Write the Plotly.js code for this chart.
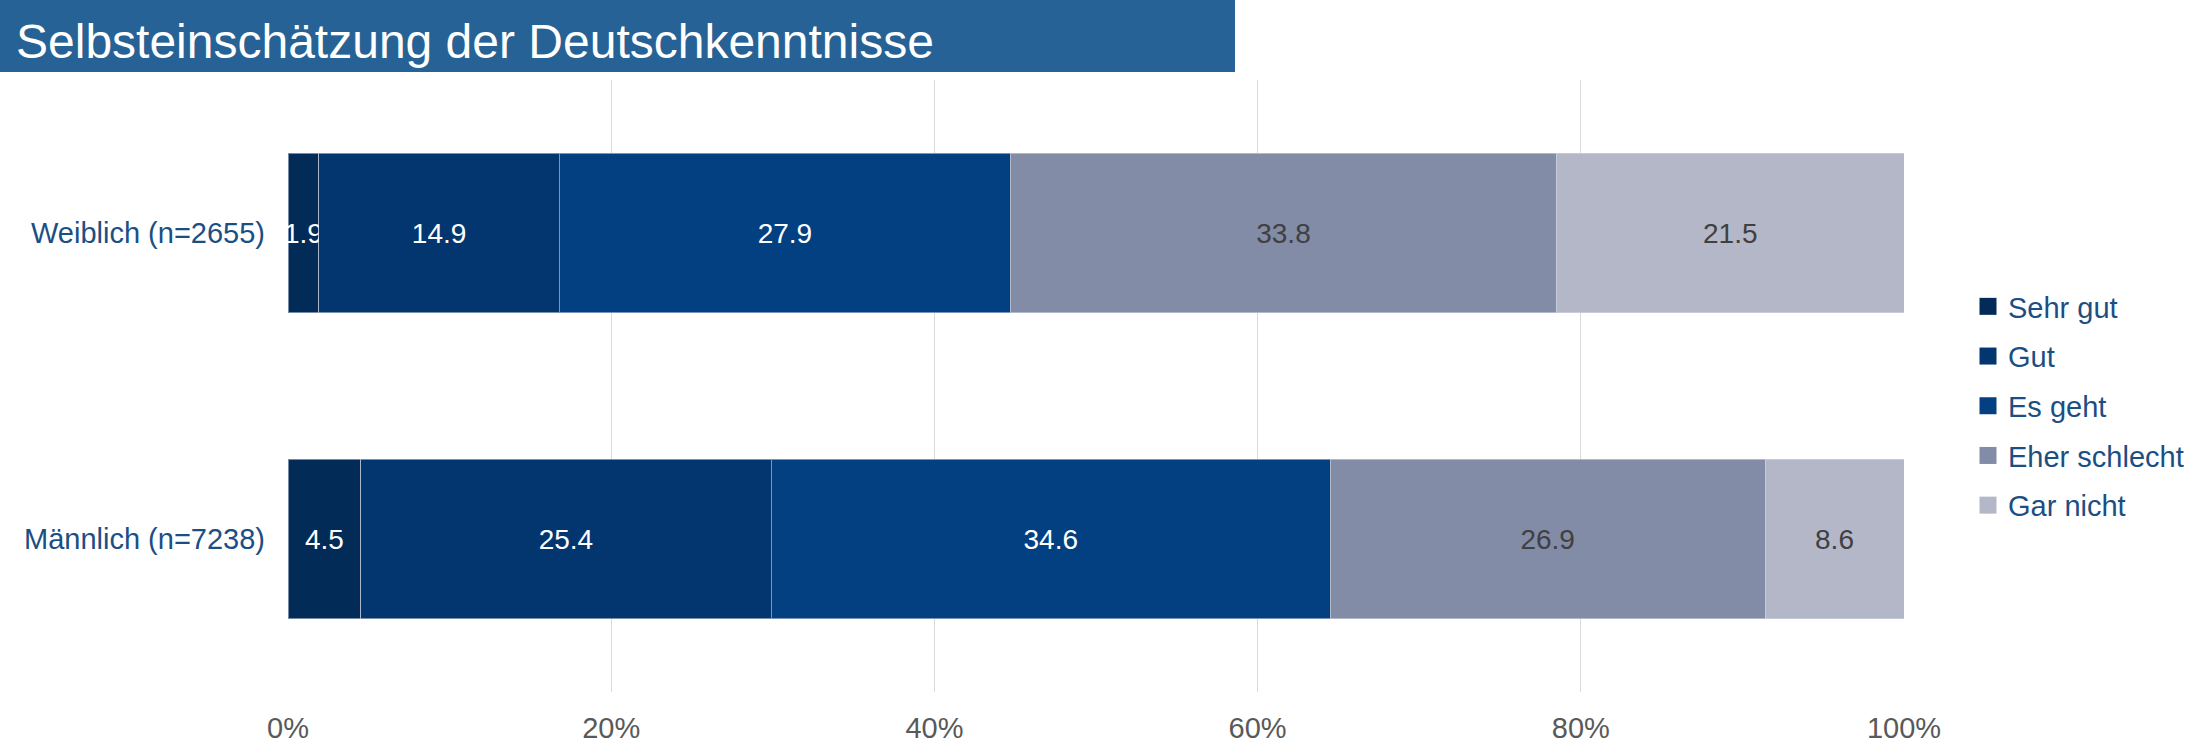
<!DOCTYPE html>
<html>
<head>
<meta charset="utf-8">
<script src="https://cdn.plot.ly/plotly-3.0.1.min.js"></script>
<style>
  html, body { margin: 0; padding: 0; background: #fff; }
  #chart { width: 2185px; height: 745px; }
  #chart .legend .legendpoints path { stroke-width: 0 !important; }
</style>
</head>
<body>
<div id="chart"></div>
<script>
const chartTitle = "Selbsteinschätzung der Deutschkenntnisse";
const categories = ["Weiblich (n=2655)", "Männlich (n=7238)"];
const seriesNames = ["Sehr gut", "Gut", "Es geht", "Eher schlecht", "Gar nicht"];
const sehrGut = [1.9, 4.5];
const gut = [14.9, 25.4];
const esGeht = [27.9, 34.6];
const eherSchlecht = [33.8, 26.9];
const garNicht = [21.5, 8.6];
const tickValues = [0, 20, 40, 60, 80, 100];
const tickLabels = ["0%", "20%", "40%", "60%", "80%", "100%"];

const seriesValues = [sehrGut, gut, esGeht, eherSchlecht, garNicht];
const seriesColors = ["#022b57", "#03366e", "#034081", "#828ca7", "#b4b7c7"];
const labelColors = ["#ffffff", "#ffffff", "#ffffff", "#404040", "#404040"];

const FONT = "'Liberation Sans', Arial, sans-serif";

const traces = seriesNames.map((name, i) => ({
  type: "bar",
  orientation: "h",
  name: name,
  legendgroup: "g" + i,
  y: categories,
  x: seriesValues[i],
  text: seriesValues[i].map(v => v.toFixed(1)),
  texttemplate: "%{text}",
  textposition: "inside",
  insidetextanchor: "middle",
  textangle: 0,
  constraintext: "none",
  cliponaxis: false,
  textfont: { family: FONT, size: 28, color: labelColors[i] },
  marker: { color: seriesColors[i], line: { color: "rgba(215,220,232,0.55)", width: 1 } },
  hoverinfo: "name+x"
}));

const L = 288, R = 281, T = 80, B = 53;
const W = 2185, H = 745;
const pw = W - L - R, ph = H - T - B;
const px2x = p => (p - L) / pw;
const py2y = p => (H - B - p) / ph;

const layout = {
  width: W,
  height: H,
  margin: { l: L, r: R, t: T, b: B, pad: 0, autoexpand: false },
  paper_bgcolor: "#ffffff",
  plot_bgcolor: "#ffffff",
  barmode: "stack",
  bargap: 0.48,
  showlegend: true,
  title: {
    text: chartTitle,
    font: { family: FONT, size: 48, color: "#ffffff" },
    x: 16 / W, xref: "container", xanchor: "left",
    y: 1 - 41 / H, yref: "container", yanchor: "middle"
  },
  shapes: [{
    type: "rect", xref: "paper", yref: "paper", layer: "below",
    x0: px2x(0), x1: px2x(1235), y0: py2y(72), y1: py2y(0),
    fillcolor: "#266295", line: { width: 0 }
  }],
  xaxis: {
    range: [0, 100],
    tickvals: tickValues,
    ticktext: tickLabels,
    showgrid: true,
    gridcolor: "#d9d9d9",
    gridwidth: 1,
    zeroline: false,
    showline: false,
    ticks: "",
    tickfont: { family: FONT, size: 29, color: "#595959" },
    ticklabelstandoff: 16,
    fixedrange: true
  },
  yaxis: {
    categoryorder: "array",
    categoryarray: categories,
    autorange: "reversed",
    showgrid: false,
    zeroline: false,
    showline: false,
    ticks: "",
    ticklabelstandoff: 22,
    tickfont: { family: FONT, size: 29, color: "#1b4f84" },
    fixedrange: true
  },
  legend: {
    orientation: "v",
    traceorder: "grouped",
    x: px2x(1968), xanchor: "left",
    y: py2y(406), yanchor: "middle",
    font: { family: FONT, size: 29, color: "#1b4f84" },
    itemwidth: 30,
    bgcolor: "rgba(0,0,0,0)",
    tracegroupgap: 9
  },
  font: { family: FONT }
};

Plotly.newPlot("chart", traces, layout, { displayModeBar: false, staticPlot: true }).then(gd => {
  // enlarge the legend colour squares to match the reference
  gd.querySelectorAll(".legend .legendpoints path").forEach(p => {
    p.setAttribute("d", "M8.5,8.5H-8.5V-8.5H8.5Z");
  });
});
</script>
</body>
</html>
